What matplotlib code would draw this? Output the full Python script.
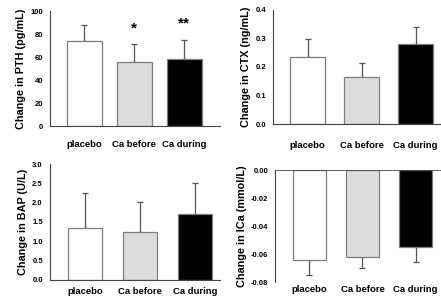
import matplotlib.pyplot as plt

plt.rcParams['font.family'] = ['Liberation Sans', 'DejaVu Sans']
plt.rcParams['font.weight'] = 'bold'

groups = ['placebo', 'Ca before', 'Ca during']
colors = ['white', '#dcdcdc', 'black']

pth = [74, 56, 58]
pth_err = [14, 15, 17]
ctx = [0.235, 0.165, 0.28]
ctx_err = [0.063, 0.05, 0.06]
bap = [1.35, 1.25, 1.7]
bap_err = [0.9, 0.78, 0.82]
ica = [-0.064, -0.062, -0.055]
ica_err = [0.011, 0.008, 0.011]
stars = ['', '*', '**']

fig = plt.figure(figsize=(4.41, 3.01), dpi=100)


def panel(rect, vals, errs, ylab, ylim, ticks, fmt, xlim, width, xpad, neg=False):
    ax = fig.add_axes(rect)
    x = range(len(vals))
    ax.bar(x, vals, width=width, color=colors, edgecolor='#7f7f7f', linewidth=0.9, zorder=2)
    for xi, v, e in zip(x, vals, errs):
        if neg:
            ax.errorbar(xi, v, yerr=[[e], [0]], fmt='none', ecolor='#555555',
                        elinewidth=0.9, capsize=2.5, capthick=0.9, zorder=1)
        else:
            ax.errorbar(xi, v, yerr=[[0], [e]], fmt='none', ecolor='#555555',
                        elinewidth=0.9, capsize=2.5, capthick=0.9, zorder=1)
    ax.set_ylim(*ylim)
    ax.set_xlim(*xlim)
    ax.set_yticks(ticks)
    ax.set_yticklabels([fmt.format(t) for t in ticks], fontsize=5.5)
    ax.set_xticks(list(x))
    ax.set_xticklabels(groups, fontsize=6.8)
    ax.tick_params(axis='x', length=0, pad=xpad)
    ax.tick_params(axis='y', length=0, pad=5)
    ax.spines['top'].set_visible(False)
    ax.spines['right'].set_visible(False)
    ax.spines['left'].set_color('#444444')
    ax.spines['bottom'].set_color('#444444')
    ax.set_ylabel(ylab, fontsize=7.8, fontweight='bold', labelpad=3)
    return ax


ax1 = panel([0.113, 0.581, 0.386, 0.382], pth, pth_err, 'Change in PTH (pg/mL)',
            (0, 100), [0, 20, 40, 60, 80, 100], '{:g}', (-0.69, 2.72), 0.7, 10)
for xi, s, v, e in zip(range(3), stars, pth, pth_err):
    if s:
        ax1.text(xi, v + e + 8, s, ha='center', va='bottom', fontsize=11, fontweight='bold')

panel([0.619, 0.588, 0.381, 0.379], ctx, ctx_err, 'Change in CTX (ng/mL)',
      (0, 0.4), [0, 0.1, 0.2, 0.3, 0.4], '{:.1f}', (-0.64, 2.47), 0.65, 12)

panel([0.113, 0.070, 0.386, 0.385], bap, bap_err, 'Change in BAP (U/L)',
      (0, 3.0), [0, 0.5, 1.0, 1.5, 2.0, 2.5, 3.0], '{:.1f}', (-0.64, 2.45), 0.62, 5)

ax4 = panel([0.624, 0.063, 0.376, 0.372], ica, ica_err, 'Change in ICa (mmol/L)',
            (-0.08, 0), [-0.08, -0.06, -0.04, -0.02, 0.0], '{:.2f}', (-0.645, 2.48), 0.62, 2,
            neg=True)
ax4.spines['bottom'].set_visible(False)
ax4.axhline(0, color='#444444', linewidth=1.2, zorder=3)

fig.savefig('out.png', dpi=100)
